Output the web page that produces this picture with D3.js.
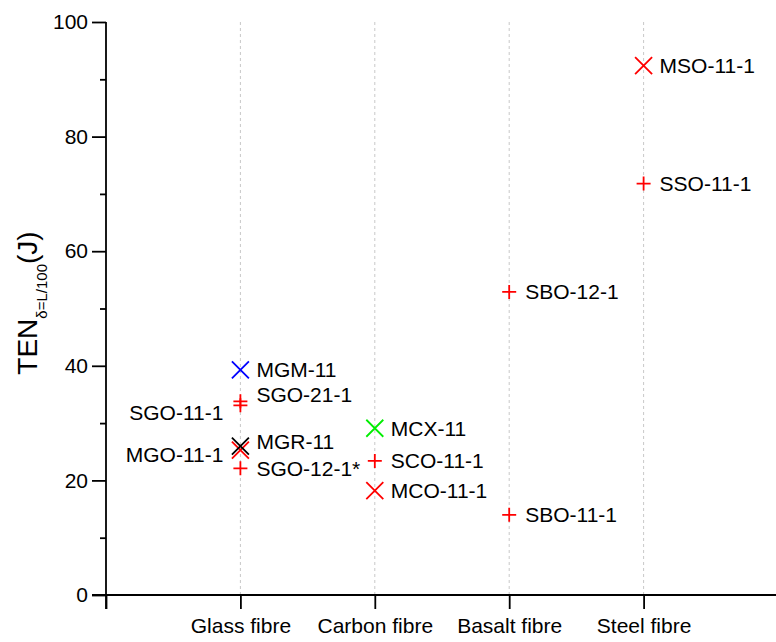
<!DOCTYPE html>
<html>
<head>
<meta charset="utf-8">
<script src="https://cdn.jsdelivr.net/npm/d3@7"></script>
<style>
  body { margin: 0; background: #fff; }
  svg text { font-family: "Liberation Sans", Arial, sans-serif; fill: #000; }
</style>
</head>
<body>
<div id="chart"></div>
<script>
// categories on the x axis
const categories = ["Glass fibre", "Carbon fibre", "Basalt fibre", "Steel fibre"];

// specimens: name, category index (1-based), TEN value, marker type, colour
const names    = ["MGM-11", "SGO-21-1", "SGO-11-1", "MGO-11-1", "MGR-11", "SGO-12-1*",
                  "MCX-11", "SCO-11-1", "MCO-11-1",
                  "SBO-12-1", "SBO-11-1",
                  "MSO-11-1", "SSO-11-1"];
const groups   = [1, 1, 1, 1, 1, 1, 2, 2, 2, 3, 3, 4, 4];
const values   = [39.3, 33.8, 33.1, 25.3, 26.0, 22.1, 29.1, 23.4, 18.2, 52.9, 14.0, 92.4, 71.8];
const markers  = ["x", "+", "+", "x", "x", "+", "x", "+", "x", "+", "+", "x", "+"];
const colours  = ["#0000ff", "#ff0000", "#ff0000", "#ff0000", "#000000", "#ff0000",
                  "#00ee00", "#ff0000", "#ff0000", "#ff0000", "#ff0000", "#ff0000", "#ff0000"];

// y ticks
const yMajor = [0, 20, 40, 60, 80, 100];
const yMinor = [10, 30, 50, 70, 90];

// label placement (side and small vertical nudge in px to avoid overlaps)
const labelSide = ["r", "r", "l", "l", "r", "r", "r", "r", "r", "r", "r", "r", "r"];
const labelDy   = [0, -7, 7, 5, -4, 0, 0, 0, 0, 0, 0, 0, 0];

const width = 776, height = 642;
const svg = d3.select("#chart").append("svg")
  .attr("width", width)
  .attr("height", height);

const x = d3.scaleLinear().domain([0, 5]).range([106, 778]);
const y = d3.scaleLinear().domain([0, 100]).range([595, 22]);

// dashed vertical grid lines at each category
svg.append("g").selectAll("line")
  .data(categories)
  .join("line")
  .attr("x1", (d, i) => x(i + 1))
  .attr("x2", (d, i) => x(i + 1))
  .attr("y1", y(100))
  .attr("y2", y(0))
  .attr("stroke", "#c8c8c8")
  .attr("stroke-width", 1)
  .attr("stroke-dasharray", "3,3");

// y axis, major ticks
const yAxis = svg.append("g")
  .attr("transform", `translate(${x(0)},0)`)
  .call(d3.axisLeft(y).tickValues(yMajor).tickSize(14).tickPadding(4).tickSizeOuter(0));
yAxis.select(".domain").remove();
yAxis.selectAll("line").attr("stroke-width", 1.8);
yAxis.selectAll("text").style("font-size", "21px");

// y axis, minor ticks
svg.append("g")
  .attr("transform", `translate(${x(0)},0)`)
  .call(d3.axisLeft(y).tickValues(yMinor).tickSize(6).tickFormat("").tickSizeOuter(0))
  .call(g => g.select(".domain").remove())
  .selectAll("line").attr("stroke-width", 1.8);

// x axis
const xAxis = svg.append("g")
  .attr("transform", `translate(0,${y(0)})`)
  .call(d3.axisBottom(x)
    .tickValues([0, 1, 2, 3, 4])
    .tickFormat(d => d === 0 ? "" : categories[d - 1])
    .tickSize(14).tickPadding(9).tickSizeOuter(0));
xAxis.select(".domain").remove();
xAxis.selectAll("line").attr("stroke-width", 1.8);
xAxis.selectAll("text").style("font-size", "21px");

// axis lines
svg.append("line")
  .attr("x1", x(0)).attr("x2", x(0))
  .attr("y1", y(100)).attr("y2", y(0) + 14)
  .attr("stroke", "#000").attr("stroke-width", 1.8);
svg.append("line")
  .attr("x1", x(0) - 14).attr("x2", width)
  .attr("y1", y(0)).attr("y2", y(0))
  .attr("stroke", "#000").attr("stroke-width", 1.8);

// y axis title
const title = svg.append("text")
  .attr("transform", `translate(37,303) rotate(-90)`)
  .attr("text-anchor", "middle")
  .style("font-size", "28px");
title.append("tspan").text("TEN");
title.append("tspan").attr("dy", 10).style("font-size", "15px").text("δ=L/100");
title.append("tspan").attr("dy", -10).text("(J)");

// markers
const pts = names.map((n, i) => ({
  name: n, cx: x(groups[i]), cy: y(values[i]),
  marker: markers[i], colour: colours[i], side: labelSide[i], dy: labelDy[i]
}));

function markerPath(m) {
  if (m === "x") {
    const s = 8.5;
    return `M${-s},${-s}L${s},${s}M${-s},${s}L${s},${-s}`;
  }
  const s = 7;
  return `M${-s},0L${s},0M0,${-s}L0,${s}`;
}

svg.append("g").selectAll("path")
  .data(pts)
  .join("path")
  .attr("transform", d => `translate(${d.cx},${d.cy})`)
  .attr("d", d => markerPath(d.marker))
  .attr("fill", "none")
  .attr("stroke", d => d.colour)
  .attr("stroke-width", 1.8);

// point labels
svg.append("g").selectAll("text")
  .data(pts)
  .join("text")
  .attr("x", d => d.side === "r" ? d.cx + 16 : d.cx - 17)
  .attr("y", d => d.cy + d.dy)
  .attr("dy", "0.35em")
  .attr("text-anchor", d => d.side === "r" ? "start" : "end")
  .style("font-size", "21px")
  .text(d => d.name);
</script>
</body>
</html>
